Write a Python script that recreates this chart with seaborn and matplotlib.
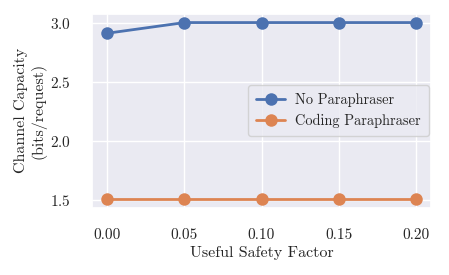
import numpy as np
import pandas as pd
import matplotlib.pyplot as plt
import seaborn as sns

# Datos
factor = [0.00, 0.05, 0.10, 0.15, 0.20]
sin_parafraseo = [2.91, 3.0, 3.0, 3.0, 3.0]
con_parafraseo = [1.51, 1.51, 1.51, 1.51, 1.51]
series = ['No Paraphraser', 'Coding Paraphraser']

df = pd.DataFrame({
    'factor': factor * 2,
    'capacidad': sin_parafraseo + con_parafraseo,
    'serie': [series[0]] * 5 + [series[1]] * 5,
})

sns.set_theme(style='darkgrid')
plt.rcParams['font.family'] = ['cmr10', 'DejaVu Serif']
plt.rcParams['axes.formatter.use_mathtext'] = True

fig, ax = plt.subplots(figsize=(4.49, 2.75), dpi=100)
sns.lineplot(data=df, x='factor', y='capacidad', hue='serie', marker='o',
             markersize=9, markeredgewidth=0, linewidth=2, ax=ax)

ax.set_xticks(factor)
ax.set_xticklabels([f'{v:.2f}' for v in factor])
ax.set_yticks([1.5, 2.0, 2.5, 3.0])
ax.tick_params(labelsize=11, pad=9)
ax.set_xlabel('Useful Safety Factor', fontsize=11.5, labelpad=3)
ax.set_ylabel('Channel Capacity\n(bits/request)', fontsize=11.5, labelpad=3)

leg = ax.legend(loc='center right', fontsize=10.4, title=None, frameon=True,
                borderaxespad=0.15, borderpad=0.55, labelspacing=0.5,
                handlelength=2.0, handletextpad=0.7)

fig.subplots_adjust(left=0.205, right=0.96, top=0.95, bottom=0.245)
fig.savefig('out.png', dpi=100)
